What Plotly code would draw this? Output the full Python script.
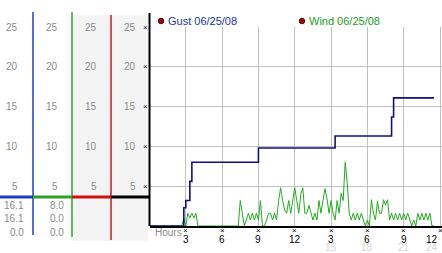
import plotly.graph_objects as go

# ---------------- data ----------------
# 10-minute samples, hours since midnight
minutes_step = 10
wind = [0]*17 + [1.0, 0, 1.6, 1.0, 1.6, 1.0, 1.6, 0] + [0]*20 + [
    3.2, 1.6, 0, 0.75, 1.6, 0.75, 1.6, 0.75, 1.6, 0.75,
    3.2, 0, 0, 0.75, 1.6, 1.6, 0.75, 1.6, 0.75, 3.2,
    4.8, 3.2, 2.0, 1.6, 3.2, 1.6, 3.2, 4.8, 3.2, 1.6,
    4.0, 4.8, 1.6, 1.6, 2.6, 1.6, 0.75, 1.6, 0.75, 3.2,
    1.6, 3.2, 4.7, 3.4, 1.6, 3.2, 1.6, 0.75, 3.2, 1.6,
    4.1, 3.2, 8.0, 5.5, 1.6, 0.75, 1.6, 0.75, 1.6, 0.75,
    1.6, 0.75, 0, 0.75, 0, 3.3, 1.6, 0.75, 3.1, 1.6,
    1.6, 3.3, 2.6, 3.3, 0.75, 1.6, 0.75, 1.6, 0.75, 1.6,
    0.75, 1.6, 0.75, 1.6, 0.75, 0, 0.75, 0, 1.6, 0.75,
    1.6, 0.75, 1.6, 0.75, 1.6, 0, 0]
gust = [0]*17 + [2.3, 3.2, 3.2, 5.6] + [8.0]*33 + [9.8]*38 + [11.3]*28 + [13.7] + [16.1]*21
hours = [i * minutes_step / 60 for i in range(len(wind))]

y_ticks = [5, 10, 15, 20, 25]
x_ticks = [3, 6, 9, 12, 15, 18, 21, 24]
x_ticktext = ["3", "6", "9", "12", "3", "6", "9", "12"]
x_ticktext2 = ["", "", "", "", "15", "18", "21", "24"]
gust_stats = ["16.1", "16.1", "0.0"]
wind_stats = ["8.0", "0.0", "0.0"]
gust_label = "Gust 06/25/08"
wind_label = "Wind 06/25/08"

# ---------------- layout helpers ----------------
W, H = 442, 253
def px(x): return x / W
def py(y): return (H - y) / H

FONT = "Liberation Sans"
GUST_C = "#10107e"
WIND_C = "#22aa22"

fig = go.Figure()
fig.add_trace(go.Scatter(x=hours, y=wind, mode="lines",
                         line=dict(color=WIND_C, width=1), hoverinfo="skip"))
fig.add_trace(go.Scatter(x=hours, y=gust, mode="lines", line_shape="hv",
                         line=dict(color=GUST_C, width=1.6), hoverinfo="skip"))

x_end = 24 * (W - 149.5) / (440 - 149.5)

shapes = []
# gray column backgrounds
shapes.append(dict(type="rect", xref="paper", yref="paper", x0=px(73), x1=px(110.5),
                   y0=py(241), y1=py(15), fillcolor="#f4f4f4", line_width=0, layer="below"))
shapes.append(dict(type="rect", xref="paper", yref="paper", x0=px(112), x1=px(148),
                   y0=py(241), y1=py(15), fillcolor="#f4f4f4", line_width=0, layer="below"))
# vertical column lines
for xx, c, y0, y1 in [(33, "#1a3fbf", 12, 235), (72, "#28a428", 12, 237),
                      (111, "#c01818", 15, 240), (149.5, "#000000", 13, 226)]:
    shapes.append(dict(type="line", xref="paper", yref="paper", x0=px(xx), x1=px(xx),
                       y0=py(y1), y1=py(y0), line=dict(color=c, width=1.5 if c != "#000000" else 2)))
# horizontal colored bar
for x0, x1, c in [(0, 33, "#1a3fbf"), (33, 72, "#28a428"), (72, 111, "#d01010"), (111, 149.5, "#000000")]:
    shapes.append(dict(type="line", xref="paper", yref="paper", x0=px(x0), x1=px(x1),
                       y0=py(197), y1=py(197), line=dict(color=c, width=3)))
# legend dots
for cx in [161, 302]:
    shapes.append(dict(type="circle", xref="paper", yref="paper",
                       x0=px(cx - 2.8), x1=px(cx + 2.8), y0=py(23.8), y1=py(18.2),
                       fillcolor="#a00000", line=dict(color="#300000", width=0.8)))

ann = []
col_right = [20, 60, 99, 138]
for cr in col_right:
    for t in y_ticks:
        ann.append(dict(x=px(cr), y=t, xref="paper", yref="y", text=str(t), showarrow=False,
                        xanchor="right", yanchor="middle",
                        font=dict(family=FONT, size=10, color="#8c8c8c")))
# y-axis tick marks
for t in y_ticks:
    ann.append(dict(x=px(145.5), y=t, xref="paper", yref="y", text="×", showarrow=False,
                    xanchor="center", yanchor="middle", font=dict(family=FONT, size=8, color="#000")))
# x-axis labels
last = x_ticks[-1]
for t, lab, lab2 in zip(x_ticks, x_ticktext, x_ticktext2):
    anchor = "right" if t == last else "center"
    ann.append(dict(x=t, y=py(230), xref="x", yref="paper", text="×", showarrow=False,
                    xanchor="center", yanchor="middle", font=dict(family=FONT, size=8, color="#000")))
    ann.append(dict(x=t, y=py(239.5), xref="x", yref="paper", text=lab, showarrow=False,
                    xanchor=anchor, yanchor="middle", font=dict(family=FONT, size=10, color="#000")))
    if lab2:
        ann.append(dict(x=t, y=py(247), xref="x", yref="paper", text=lab2, showarrow=False,
                        xanchor=anchor, yanchor="middle", font=dict(family=FONT, size=10, color="#d4d4d4")))
ann.append(dict(x=px(153), y=py(232), xref="paper", yref="paper", text="Hours", showarrow=False,
                xanchor="left", yanchor="middle", font=dict(family=FONT, size=10, color="#8c8c8c")))
# stats
for (vals, right) in [(gust_stats, 26), (wind_stats, 66)]:
    for v, yy in zip(vals, [205, 218.3, 232.5]):
        ann.append(dict(x=px(right), y=py(yy), xref="paper", yref="paper", text=v, showarrow=False,
                        xanchor="right", yanchor="middle", font=dict(family=FONT, size=10, color="#8c8c8c")))
# legend text
ann.append(dict(x=px(165.5), y=py(20.7), xref="paper", yref="paper", text=gust_label, showarrow=False,
                xanchor="left", yanchor="middle", font=dict(family=FONT, size=11, color="#2236a8")))
ann.append(dict(x=px(306.5), y=py(20.7), xref="paper", yref="paper", text=wind_label, showarrow=False,
                xanchor="left", yanchor="middle", font=dict(family=FONT, size=11, color="#22a022")))

fig.update_layout(
    width=W, height=H, margin=dict(l=0, r=0, t=0, b=0),
    paper_bgcolor="white", plot_bgcolor="white", showlegend=False,
    xaxis=dict(domain=[px(149.5), 1], range=[0, x_end], tickvals=x_ticks, showticklabels=False,
               showgrid=True, gridcolor="#c0c0c0", gridwidth=1, zeroline=False,
               showline=True, linecolor="#000", linewidth=2, ticks=""),
    yaxis=dict(domain=[py(226), py(27)], range=[0, 25], tickvals=y_ticks, showticklabels=False,
               showgrid=True, gridcolor="#c0c0c0", gridwidth=1, zeroline=False,
               showline=False, ticks=""),
    shapes=shapes, annotations=ann,
)
fig.write_html("out.html")
